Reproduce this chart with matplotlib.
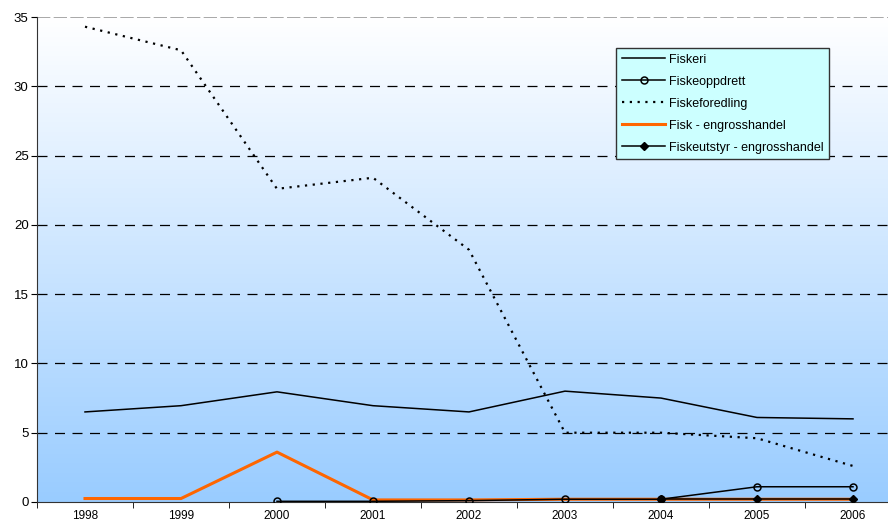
import numpy as np
import matplotlib.pyplot as plt
from matplotlib.colors import LinearSegmentedColormap

plt.rcParams['font.family'] = ['Liberation Sans', 'DejaVu Sans']

years = ['1998', '1999', '2000', '2001', '2002', '2003', '2004', '2005', '2006']
fiskeri = [6.5, 6.95, 7.95, 6.95, 6.5, 8.0, 7.5, 6.1, 6.0]
fiskeoppdrett = [None, None, 0.05, 0.05, 0.1, 0.2, 0.2, 1.1, 1.1]
fiskeforedling = [34.3, 32.6, 22.6, 23.4, 18.2, 5.0, 5.0, 4.6, 2.6]
fisk_engros = [0.25, 0.25, 3.6, 0.15, 0.15, 0.2, 0.2, 0.2, 0.2]
fiskeutstyr = [None, None, None, None, None, None, 0.2, 0.2, 0.2]

def arr(v):
    return np.array([np.nan if a is None else a for a in v], dtype=float)

x = np.arange(len(years))

fig = plt.figure(figsize=(8.88, 5.25), dpi=100)
ax = fig.add_axes([37/888, 23/525, (901-37)/888, (502-17)/525])

# gradient bakgrunn
cmap = LinearSegmentedColormap.from_list('bg', ['#99CCFF', '#FFFFFF'])
grad = np.linspace(0, 1, 256).reshape(-1, 1)
ax.imshow(grad, aspect='auto', cmap=cmap, origin='lower',
          extent=[-0.5, 8.5, 0, 35], zorder=0)

for yv in range(5, 35, 5):
    ax.axhline(yv, color='black', lw=0.9, ls=(0, (8, 6)), zorder=1)
ax.axhline(35, color='#999999', lw=1.2, ls=(0, (8, 2)), zorder=1)

ax.plot(x, fiskeri, color='black', lw=1.1, label='Fiskeri', zorder=3)
ax.plot(x, arr(fiskeoppdrett), color='black', lw=1.1, marker='o', ms=5,
        mfc='none', mec='black', mew=1.1, label='Fiskeoppdrett', zorder=4)
ax.plot(x, fiskeforedling, color='black', lw=1.6, ls=(0, (1, 2.5)),
        label='Fiskeforedling', zorder=3)
ax.plot(x, fisk_engros, color='#FF6600', lw=2.2, label='Fisk - engrosshandel', zorder=3)
ax.plot(x, arr(fiskeutstyr), color='black', lw=1.1, marker='D', ms=4,
        label='Fiskeutstyr - engrosshandel', zorder=5)

ax.set_xlim(-0.5, 8.5)
ax.set_ylim(0, 35)
ax.set_yticks(range(0, 36, 5))
ax.set_xticks(x)
ax.set_xticklabels(years)
ax.set_xticks(np.arange(-0.5, 9, 1), minor=True)
ax.tick_params(axis='x', which='major', length=0, labelsize=8.5, pad=6)
ax.tick_params(axis='x', which='minor', length=4, direction='out')
ax.tick_params(axis='y', length=4, labelsize=9.5, pad=2)

for s in ['top', 'right']:
    ax.spines[s].set_visible(False)
ax.spines['left'].set_color('#333333')
ax.spines['bottom'].set_color('#333333')

leg = ax.legend(loc='upper left', bbox_to_anchor=((616-37)/864, (502-48)/485),
                fontsize=9, frameon=True, fancybox=False, borderpad=0.45,
                labelspacing=0.8, handlelength=3.5, handletextpad=0.3,
                borderaxespad=0)
leg.get_frame().set_facecolor('#CCFFFF')
leg.get_frame().set_edgecolor('#333333')
leg.get_frame().set_linewidth(1.0)
leg.get_frame().set_alpha(1)

fig.savefig('out.png', dpi=100)
